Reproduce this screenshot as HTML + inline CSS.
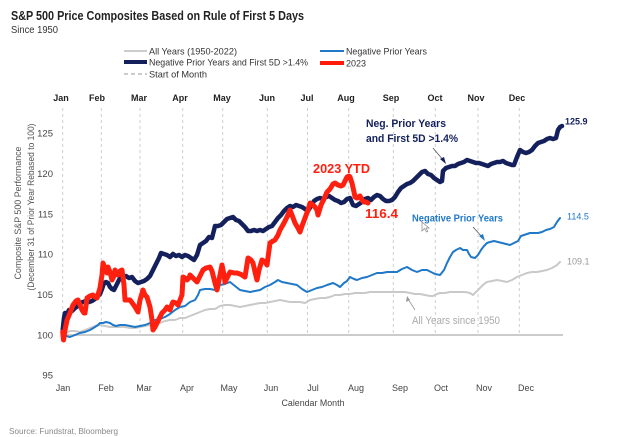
<!DOCTYPE html>
<html><head><meta charset="utf-8"><style>
html,body{margin:0;padding:0;background:#fff;}
svg{display:block;font-family:"Liberation Sans",Arial,sans-serif;}
</style></head><body>
<svg width="624" height="437" viewBox="0 0 624 437" xmlns="http://www.w3.org/2000/svg">
<rect width="624" height="437" fill="#fff"/>
<!-- Title -->
<text x="11" y="20" font-size="12.5" font-weight="bold" fill="#222" textLength="293" lengthAdjust="spacingAndGlyphs">S&amp;P 500 Price Composites Based on Rule of First 5 Days</text>
<text x="11" y="33" font-size="10" fill="#333" textLength="47" lengthAdjust="spacingAndGlyphs">Since 1950</text>

<!-- Legend -->
<g font-size="9.5" fill="#333">
<line x1="124" y1="51" x2="147" y2="51" stroke="#cccccc" stroke-width="2"/>
<text x="149" y="54.5" textLength="88" lengthAdjust="spacingAndGlyphs">All Years (1950-2022)</text>
<line x1="124" y1="62" x2="147" y2="62" stroke="#13205c" stroke-width="4"/>
<text x="149" y="65.5" textLength="159" lengthAdjust="spacingAndGlyphs">Negative Prior Years and First 5D &gt;1.4%</text>
<line x1="124" y1="74" x2="147" y2="74" stroke="#bbbbbb" stroke-width="1.5" stroke-dasharray="4,3"/>
<text x="149" y="77.5" textLength="58" lengthAdjust="spacingAndGlyphs">Start of Month</text>
<line x1="320" y1="51" x2="344" y2="51" stroke="#1f78c8" stroke-width="2"/>
<text x="346" y="54.5" textLength="81" lengthAdjust="spacingAndGlyphs">Negative Prior Years</text>
<line x1="320" y1="63" x2="344" y2="63" stroke="#ff1a0a" stroke-width="4"/>
<text x="346" y="66.5" textLength="20" lengthAdjust="spacingAndGlyphs">2023</text>
</g>

<!-- Top month labels -->
<g font-size="9" font-weight="bold" fill="#222" text-anchor="middle">
<text x="61" y="101">Jan</text><text x="97" y="101">Feb</text><text x="139" y="101">Mar</text>
<text x="180" y="101">Apr</text><text x="222" y="101">May</text><text x="267" y="101">Jun</text>
<text x="307" y="101">Jul</text><text x="346" y="101">Aug</text><text x="391" y="101">Sep</text>
<text x="435" y="101">Oct</text><text x="476" y="101">Nov</text><text x="517" y="101">Dec</text>
</g>

<!-- Month dashed gridlines -->
<g stroke="#cfcfcf" stroke-width="1" stroke-dasharray="3,3">
<line x1="62.7" y1="108" x2="62.7" y2="335"/><line x1="101.3" y1="108" x2="101.3" y2="335"/>
<line x1="140" y1="108" x2="140" y2="335"/><line x1="182.7" y1="108" x2="182.7" y2="335"/>
<line x1="222.7" y1="108" x2="222.7" y2="335"/><line x1="267.3" y1="108" x2="267.3" y2="335"/>
<line x1="307.5" y1="108" x2="307.5" y2="335"/><line x1="348.7" y1="108" x2="348.7" y2="335"/>
<line x1="393.3" y1="108" x2="393.3" y2="335"/><line x1="435.3" y1="108" x2="435.3" y2="335"/>
<line x1="478" y1="108" x2="478" y2="335"/><line x1="519.3" y1="108" x2="519.3" y2="335"/>
</g>
<line x1="62" y1="335" x2="563" y2="335" stroke="#cccccc" stroke-width="2"/>

<!-- Y axis labels -->
<g font-size="9.5" fill="#444" text-anchor="end">
<text x="53" y="136.5">125</text><text x="53" y="177">120</text><text x="53" y="217.5">115</text>
<text x="53" y="257.5">110</text><text x="53" y="298">105</text><text x="53" y="338.5">100</text>
<text x="53" y="378.5">95</text>
</g>
<g font-size="9" fill="#555" text-anchor="middle">
<text transform="translate(21,213) rotate(-90)" textLength="133" lengthAdjust="spacingAndGlyphs">Composite S&amp;P 500 Performance</text>
<text transform="translate(34,207) rotate(-90)" textLength="167" lengthAdjust="spacingAndGlyphs">(December 31 of Prior Year Rebased to 100)</text>
</g>

<!-- Bottom month labels -->
<g font-size="9" fill="#444" text-anchor="middle">
<text x="63" y="391">Jan</text><text x="106" y="391">Feb</text><text x="144" y="391">Mar</text>
<text x="187" y="391">Apr</text><text x="229" y="391">May</text><text x="271" y="391">Jun</text>
<text x="313" y="391">Jul</text><text x="356" y="391">Aug</text><text x="400" y="391">Sep</text>
<text x="441" y="391">Oct</text><text x="484" y="391">Nov</text><text x="526" y="391">Dec</text>
</g>
<text x="313" y="406" font-size="9" fill="#444" text-anchor="middle" textLength="63" lengthAdjust="spacingAndGlyphs">Calendar Month</text>
<text x="9" y="434" font-size="8.5" fill="#888" textLength="109" lengthAdjust="spacingAndGlyphs">Source: Fundstrat, Bloomberg</text>

<!-- Series -->
<g fill="none" stroke-linejoin="round" stroke-linecap="round">
<polyline stroke="#c9c9c9" stroke-width="2" points="62.7,335 66,333 70,331 75,331 80,332 85,330 90,328 95,326 100,325 105,326 110,327 115,327 120,327 125,327 130,328 135,328 140,327 145,326 150,325 155,324 160,323 165,321 170,320 175,320 180,318 185,318 190,316 195,314 200,312 205,310 210,309 215,309 220,306 225,305 230,305 235,306 240,307 245,306 250,305 255,304 260,303 265,303 270,302 275,301 280,300 285,301 290,302 295,302 300,302 305,303 310,300 315,299 320,298 325,298 330,297 335,295 340,295 345,294 350,294 355,293 360,293 365,293 370,292 375,292 380,292 385,292 390,292 395,292 400,292 405,292 410,293 415,294 420,294 425,295 430,296 433,296 437,294 440,293 445,293 450,292 455,292 460,292 465,292 470,293 473,295 476,292 480,288 484,284 487,282 492,281 497,280 502,281 507,282 512,280 517,277 522,275 527,273 532,272 537,272 542,271 547,270 552,268 557,265 560,262"/>
<polyline stroke="#1f78c8" stroke-width="2" points="62.7,335 66,336 70,337 75,335 80,333 85,332 90,330 95,327 98,325 100,323 103,323 106,322 110,323 113,325 116,326 120,325 125,325 130,326 135,327 140,326 145,325 150,323 155,320 160,319 165,317 170,314 175,310 180,307 185,306 190,302 195,300 198,295 200,290 205,289 210,289 215,290 220,285 225,284 230,282 235,286 240,290 245,291 250,292 255,291 260,290 265,287 270,285 275,282 278,280 282,282 287,283 292,284 297,285 302,289 307,292 312,290 317,288 322,287 327,285 333,283 337,285 340,287 344,283 347,281 350,277 354,279 357,280 362,278 367,277 372,275 377,273 382,273 387,272 392,272 397,272 402,269 407,267 412,270 417,272 422,270 427,270 431,272 435,274 440,275 444,270 447,263 450,257 453,252 456,250 460,248 463,250 467,250 469,254 471,257 475,258 478,255 481,250 484,246 487,243 490,242 494,241 498,242 502,243 506,244 510,245 514,243 518,241 521,236 524,235 527,234 530,233 534,233 538,233 542,232 546,230 550,229 554,227 557,222 560,218"/>
<polyline stroke="#13205c" stroke-width="4.5" points="62.7,330 64,318 65,313 67,314 69,310 72,311 75,308 78,306 80,303 83,302 86,301 89,302 92,301 95,299 98,296 100,294 102,289 104,283 106,282 108,283 110,287 112,289 114,290 116,286 118,282 120,278 123,277 126,276 129,278 132,277 135,281 138,283 141,282 144,281 147,279 150,276 153,270 156,264 159,258 161,253 164,254 167,255 170,257 173,254 176,256 179,255 182,257 185,255 188,256 191,258 194,260 197,255 200,245 203,243 206,241 209,237 212,238 215,226 218,226 221,225 224,222 227,219 230,218 233,217 236,220 239,221 242,224 245,227 248,231 251,231 254,230 257,231 260,230 263,231 266,229 269,227 272,226 275,222 278,218 281,215 284,211 287,208 290,206 293,207 296,205 299,206 302,207 305,209 308,211 311,206 314,201 317,199 320,198 323,199 326,197 329,196 332,198 335,200 338,201 341,203 344,202 347,199 350,198 353,205 356,206 359,204 362,202 365,199 368,198 371,200 374,197 377,195 380,196 383,199 386,201 389,201 392,200 395,197 398,192 401,188 404,186 407,184 410,183 413,181 416,178 419,175 422,172 425,171 428,174 431,175 434,178 437,180 440,182 442,181 443,171 446,168 449,167 452,166 455,166 458,164 461,163 464,162 467,160 470,161 473,162 476,163 479,163 482,164 485,165 488,166 491,164 494,163 497,162 500,162 503,161 506,163 509,164 512,165 514,165 517,157 520,150 523,152 526,153 529,152 532,150 535,146 538,143 541,142 544,141 547,139 550,138 553,139 556,138 558,130 560,127 562,126"/>
<polyline stroke="#ff2010" stroke-width="5" points="62.7,332 63.5,340 65,330 67,320 70,313 73,305 76,301 78,300 80,305 82,310 84,313 85,313 87,298 90,296 93,295 95,297 97,298 100,288 102,275 103,263 105,268 107,273 108,267 110,272 112,280 114,276 115,270 117,274 118,275 120,271 122,270 124,285 125,300 128,300 130,300 133,304 135,307 138,312 140,300 143,290 145,295 147,297 150,307 152,320 153,330 155,327 157,323 160,317 162,313 165,310 167,307 170,310 172,304 173,302 176,303 178,305 180,300 182,295 183,277 185,278 187,280 189,278 190,275 193,278 197,282 200,276 203,270 206,268 210,267 212,271 213,275 215,283 217,290 219,280 222,265 224,275 225,282 228,276 230,272 234,273 237,273 240,274 242,275 245,277 248,258 251,260 253,263 255,272 257,280 259,270 262,260 265,262 267,265 270,243 273,241 275,240 278,235 280,230 284,223 287,217 290,210 292,215 295,223 298,228 300,232 302,226 305,218 308,210 310,203 313,205 315,207 317,210 318,215 321,205 324,199 327,192 330,189 333,184 335,183 338,185 341,186 343,185 345,181 347,177 349,176 350,177 352,183 354,192 355,197 357,198 360,196 362,200 364,202 366,202 368,203"/>
</g>

<!-- Annotations -->
<text x="313" y="173" font-size="13" font-weight="bold" fill="#ff2010" textLength="57" lengthAdjust="spacingAndGlyphs">2023 YTD</text>
<text x="365" y="218" font-size="13" font-weight="bold" fill="#ff2010" textLength="33" lengthAdjust="spacingAndGlyphs">116.4</text>
<text x="366" y="127" font-size="11" font-weight="bold" fill="#13205c" textLength="80" lengthAdjust="spacingAndGlyphs">Neg. Prior Years</text>
<text x="366" y="142" font-size="11" font-weight="bold" fill="#13205c" textLength="92" lengthAdjust="spacingAndGlyphs">and First 5D &gt;1.4%</text>
<line x1="433" y1="148" x2="444" y2="161" stroke="#555" stroke-width="0.8"/>
<polygon points="446,164 440,159 444,157" fill="#13205c"/>
<text x="412" y="221.5" font-size="10" font-weight="bold" fill="#1f78c8" textLength="91" lengthAdjust="spacingAndGlyphs">Negative Prior Years</text>
<line x1="473" y1="227" x2="483" y2="238" stroke="#555" stroke-width="0.8"/>
<polygon points="485,241 479,236 483,234" fill="#1f78c8"/>
<text x="412" y="324" font-size="11" fill="#aaaaaa" textLength="88" lengthAdjust="spacingAndGlyphs">All Years since 1950</text>
<line x1="415" y1="310" x2="408" y2="299" stroke="#999" stroke-width="0.8"/>
<polygon points="407,296 406,302 410,300" fill="#999"/>
<!-- cursor -->
<polygon points="422,222 422,231 424.5,228.5 426.5,232 427.8,231.3 426,228 429,228" fill="#fff" stroke="#888" stroke-width="0.7"/>

<!-- End labels -->
<text x="565" y="124.5" font-size="9" font-weight="bold" fill="#13205c">125.9</text>
<text x="567" y="219.5" font-size="9" fill="#1f78c8">114.5</text>
<text x="567" y="264.5" font-size="9" fill="#999">109.1</text>
</svg>
</body></html>
